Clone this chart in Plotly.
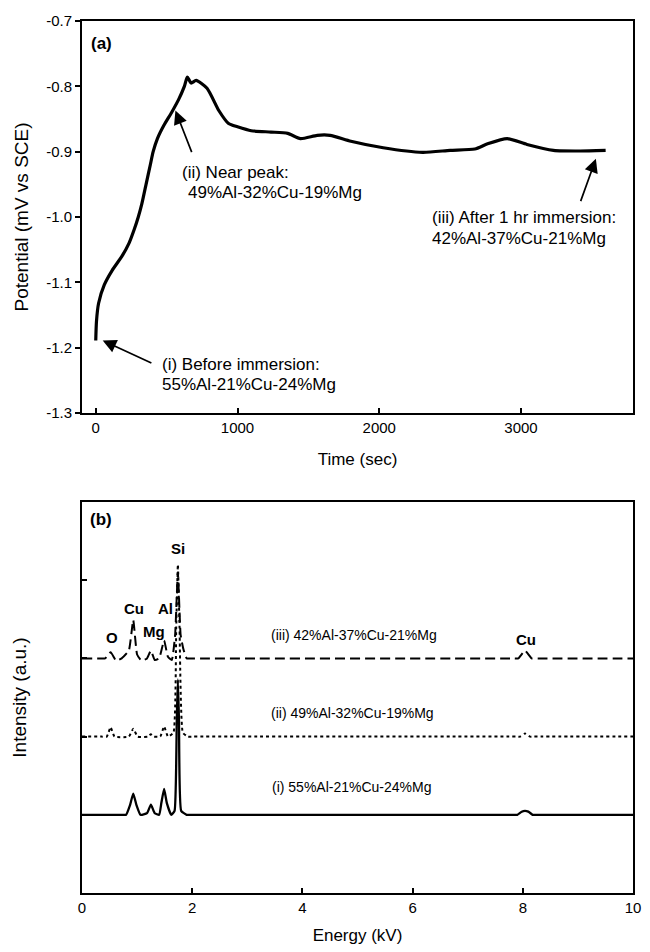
import plotly.graph_objects as go

# ---- (a) open-circuit potential vs time ----
time_s = [0, 5, 20, 60, 115, 185, 235, 270, 300, 325, 355, 385, 405, 435, 480, 535, 585,
          625, 646, 673, 708, 785, 868, 937, 1000, 1097, 1236, 1354, 1444, 1562, 1653,
          1800, 2028, 2306, 2500, 2674, 2764, 2903, 3042, 3229, 3417, 3597]
potential = [-1.189, -1.160, -1.132, -1.104, -1.082, -1.060, -1.040, -1.020, -1.000,
             -0.980, -0.950, -0.920, -0.900, -0.880, -0.860, -0.840, -0.820, -0.800,
             -0.786, -0.795, -0.791, -0.803, -0.837, -0.857, -0.862, -0.868, -0.870,
             -0.872, -0.880, -0.875, -0.875, -0.884, -0.894, -0.901, -0.898, -0.896,
             -0.888, -0.880, -0.889, -0.898, -0.899, -0.898]
time_ticks = [0, 1000, 2000, 3000]
pot_ticks = [-1.3, -1.2, -1.1, -1.0, -0.9, -0.8, -0.7]
pot_tick_text = ["-1.3", "-1.2", "-1.1", "-1.0", "-0.9", "-0.8", "-0.7"]

# ---- (b) EDS spectra (offset vertically) ----
energy_i = [0.00, 0.40, 0.75, 0.80, 0.87, 0.93, 0.99, 1.06, 1.18, 1.25, 1.32, 1.40, 1.44,
            1.49, 1.54, 1.62, 1.68, 1.72, 1.74, 1.76, 1.80, 1.90, 2.00, 2.20, 7.70, 7.85,
            7.90, 7.98, 8.04, 8.10, 8.18, 8.25, 8.40, 10.00]
intensity_i = [1.00, 1.00, 1.00, 1.00, 1.12, 1.27, 1.12, 1.00, 1.02, 1.13, 1.02, 1.00, 1.15,
               1.33, 1.15, 1.00, 1.05, 2.20, 2.73, 2.20, 1.05, 1.00, 1.00, 1.00, 1.00, 1.00,
               1.00, 1.04, 1.05, 1.04, 1.00, 1.00, 1.00, 1.00]

energy_ii = [0.00, 0.35, 0.45, 0.52, 0.59, 0.85, 0.93, 1.01, 1.20, 1.25, 1.30, 1.42, 1.49,
             1.56, 1.66, 1.71, 1.74, 1.77, 1.83, 1.92, 2.02, 2.20, 7.75, 7.88, 7.95, 8.04,
             8.13, 8.20, 8.35, 10.00]
intensity_ii = [2.00, 2.00, 2.00, 2.12, 2.00, 2.00, 2.10, 2.00, 2.00, 2.03, 2.00, 2.00, 2.13,
                2.00, 2.05, 3.40, 4.20, 3.40, 2.05, 2.00, 2.00, 2.00, 2.00, 2.00, 2.00, 2.04,
                2.00, 2.00, 2.00, 2.00]

energy_iii = [0.00, 0.32, 0.42, 0.52, 0.62, 0.72, 0.85, 0.93, 1.00, 1.08, 1.18, 1.25, 1.32,
              1.40, 1.49, 1.56, 1.63, 1.69, 1.74, 1.79, 1.84, 1.90, 2.00, 2.20, 7.70, 7.84,
              7.92, 8.04, 8.16, 8.24, 8.38, 10.00]
intensity_iii = [3.00, 3.00, 3.00, 3.08, 2.97, 3.00, 3.10, 3.49, 3.05, 2.97, 3.00, 3.10, 2.98,
                 3.00, 3.23, 3.02, 2.98, 3.30, 4.10, 3.30, 3.12, 3.00, 3.00, 3.00, 3.00, 3.00,
                 3.00, 3.10, 3.00, 3.00, 3.00, 3.00]
energy_ticks = [0, 2, 4, 6, 8, 10]

FONT = "Arial, Liberation Sans, Helvetica, sans-serif"

fig = go.Figure()
fig.add_trace(go.Scatter(x=time_s, y=potential, mode="lines", xaxis="x", yaxis="y",
                         line=dict(color="black", width=3.2, shape="spline", smoothing=0.6),
                         showlegend=False))
fig.add_trace(go.Scatter(x=energy_i, y=intensity_i, mode="lines", xaxis="x2", yaxis="y2",
                         line=dict(color="black", width=2.3, shape="spline", smoothing=0.4),
                         showlegend=False))
fig.add_trace(go.Scatter(x=energy_ii, y=intensity_ii, mode="lines", xaxis="x2", yaxis="y2",
                         line=dict(color="black", width=2, dash="dot", shape="spline",
                                   smoothing=0.4),
                         showlegend=False))
fig.add_trace(go.Scatter(x=energy_iii, y=intensity_iii, mode="lines", xaxis="x2", yaxis="y2",
                         line=dict(color="black", width=2, dash="10px,5px", shape="spline",
                                   smoothing=0.4),
                         showlegend=False))

axis_common = dict(showline=True, linecolor="black", linewidth=2, mirror=True,
                   showgrid=False, zeroline=False, tickcolor="black", tickwidth=1.5,
                   ticklen=5, tickfont=dict(size=15, color="black", family=FONT))

ann = []

def text(x, y, s, xref, yref, size=17, bold=False, xanchor="left"):
    ann.append(dict(x=x, y=y, xref=xref, yref=yref, text=f"<b>{s}</b>" if bold else s,
                    showarrow=False, xanchor=xanchor, yanchor="middle",
                    font=dict(size=size, color="black", family=FONT)))

def arrow(x, y, ax, ay, xref, yref):
    ann.append(dict(x=x, y=y, ax=ax, ay=ay, xref=xref, yref=yref, axref=xref, ayref=yref,
                    text="", showarrow=True, arrowhead=2, arrowsize=1.6, arrowwidth=1.7,
                    arrowcolor="black", standoff=0, startstandoff=0))

# panel (a) labels
text(-50, -0.734, "(a)", "x", "y", size=17, bold=True)
arrow(49, -1.189, 403, -1.2246, "x", "y")
text(451, -1.226, "(i) Before immersion:", "x", "y")
text(451, -1.257, "55%Al-21%Cu-24%Mg", "x", "y")
arrow(562, -0.837, 681, -0.903, "x", "y")
text(597, -0.932, "(ii) Near peak:", "x", "y")
text(638, -0.963, "49%Al-32%Cu-19%Mg", "x", "y")
arrow(3528, -0.911, 3417, -0.978, "x", "y")
text(2361, -1.0015, "(iii) After 1 hr immersion:", "x", "y")
text(2361, -1.0323, "42%Al-37%Cu-21%Mg", "x", "y")

# panel (b) labels
text(0.11, 4.77, "(b)", "x2", "y2", size=17, bold=True)
text(1.75, 4.41, "Si", "x2", "y2", size=15, bold=True, xanchor="center")
text(0.95, 3.64, "Cu", "x2", "y2", size=15, bold=True, xanchor="center")
text(1.52, 3.64, "Al", "x2", "y2", size=15, bold=True, xanchor="center")
text(1.30, 3.35, "Mg", "x2", "y2", size=15, bold=True, xanchor="center")
text(0.54, 3.27, "O", "x2", "y2", size=15, bold=True, xanchor="center")
text(8.05, 3.24, "Cu", "x2", "y2", size=15, bold=True, xanchor="center")
text(4.93, 3.30, "(iii) 42%Al-37%Cu-21%Mg", "x2", "y2", size=14, xanchor="center")
text(4.91, 2.30, "(ii) 49%Al-32%Cu-19%Mg", "x2", "y2", size=14, xanchor="center")
text(4.90, 1.36, "(i) 55%Al-21%Cu-24%Mg", "x2", "y2", size=14, xanchor="center")

fig.update_layout(
    width=650, height=952,
    margin=dict(l=82, r=9, t=21, b=59),
    paper_bgcolor="white", plot_bgcolor="white",
    font=dict(family=FONT, color="black"),
    xaxis=dict(axis_common, domain=[0, 1], anchor="y", range=[-97, 3790],
               tickvals=time_ticks, ticks="inside",
               title=dict(text="Time (sec)", font=dict(size=17), standoff=18)),
    yaxis=dict(axis_common, domain=[0.5505, 1], anchor="x", range=[-1.3, -0.7],
               tickvals=pot_ticks, ticktext=pot_tick_text, ticks="outside",
               title=dict(text="Potential (mV vs SCE)", font=dict(size=19), standoff=12)),
    xaxis2=dict(axis_common, domain=[0, 1], anchor="y2", range=[0, 10],
                tickvals=energy_ticks, ticks="inside",
                title=dict(text="Energy (kV)", font=dict(size=17), standoff=14)),
    yaxis2=dict(axis_common, domain=[0, 0.4484], anchor="x2", range=[0, 5],
                tickvals=[1, 2, 3, 4], ticks="inside", showticklabels=False,
                title=dict(text="Intensity (a.u.)", font=dict(size=19), standoff=48)),
    annotations=ann,
)

fig.write_html("out.html")
